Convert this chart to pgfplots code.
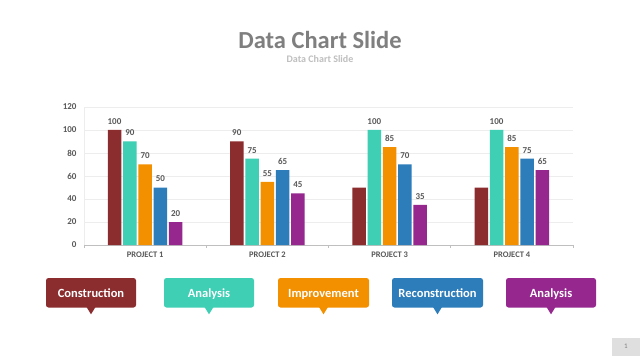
\documentclass[border=0pt]{standalone}
\usepackage{pgfplots}
\pgfplotsset{compat=1.18}
\usepackage{fontspec}
\setmainfont{Carlito}
\definecolor{cRed}{HTML}{8B2C2E}
\definecolor{cTeal}{HTML}{3ECFB4}
\definecolor{cOrange}{HTML}{F39000}
\definecolor{cBlue}{HTML}{2E7DBB}
\definecolor{cPurple}{HTML}{95278F}
\definecolor{txtGray}{HTML}{595959}
\definecolor{titleGray}{HTML}{7F7F7F}
\definecolor{subGray}{HTML}{BFBFBF}
\definecolor{gridGray}{HTML}{EDEDED}
\definecolor{axisGray}{HTML}{BFBFBF}
\begin{document}
\begin{tikzpicture}[x=1bp,y=1bp]
\useasboundingbox[fill=white] (0,0) rectangle (640,360);
% title
\node[anchor=base, inner sep=0pt, text=titleGray,font=\fontsize{24.5bp}{28bp}\selectfont\bfseries] at (320,312) {Data Chart Slide};
\node[anchor=base, inner sep=0pt, text=subGray,font=\fontsize{10bp}{12bp}\selectfont\bfseries] at (320,298) {Data Chart Slide};
\begin{axis}[
  at={(84bp,115bp)}, anchor=south west,
  scale only axis, width=489bp, height=138bp,
  xmin=-0.5, xmax=3.5, ymin=0, ymax=120,
  ybar=1.8bp, bar width=13.5bp,
  xtick={0,1,2,3},
  xticklabels={PROJECT 1,PROJECT 2,PROJECT 3,PROJECT 4},
  major tick length=0pt,
  ytick={0,20,...,120},
  tick style={draw=none},
  ymajorgrids, grid style={draw=gridGray, line width=0.6bp},
  axis x line*=bottom,
  axis y line*=left,
  x axis line style={draw=axisGray, line width=0.8bp, -},
  y axis line style={draw=gridGray, line width=0.6bp, -},
  ticklabel style={text=txtGray, font=\fontsize{9bp}{10bp}\selectfont\bfseries},
  xticklabel style={yshift=-3bp, font=\fontsize{8.5bp}{10bp}\selectfont\bfseries},
  yticklabel style={xshift=-4bp},
  /pgf/number format/assume math mode=true,
  nodes near coords,
  point meta=explicit symbolic,
  every node near coord/.append style={text=txtGray, font=\fontsize{9bp}{10bp}\selectfont\bfseries, yshift=2bp},
  clip=false,
]
\addplot[fill=cRed, draw=none] coordinates {(0,100)[100] (1,90)[90] (2,50)[] (3,50)[]};
\addplot[fill=cTeal, draw=none] coordinates {(0,90)[90] (1,75)[75] (2,100)[100] (3,100)[100]};
\addplot[fill=cOrange, draw=none] coordinates {(0,70)[70] (1,55)[55] (2,85)[85] (3,85)[85]};
\addplot[fill=cBlue, draw=none] coordinates {(0,50)[50] (1,65)[65] (2,70)[70] (3,75)[75]};
\addplot[fill=cPurple, draw=none] coordinates {(0,20)[20] (1,45)[45] (2,35)[35] (3,65)[65]};
\draw[axisGray, line width=0.6bp] (axis cs:-0.5,0) -- ([yshift=-3bp]axis cs:-0.5,0);
\draw[axisGray, line width=0.6bp] (axis cs:0.5,0) -- ([yshift=-3bp]axis cs:0.5,0);
\draw[axisGray, line width=0.6bp] (axis cs:1.5,0) -- ([yshift=-3bp]axis cs:1.5,0);
\draw[axisGray, line width=0.6bp] (axis cs:2.5,0) -- ([yshift=-3bp]axis cs:2.5,0);
\draw[axisGray, line width=0.6bp] (axis cs:3.5,0) -- ([yshift=-3bp]axis cs:3.5,0);
\end{axis}
% callouts
\foreach \xa/\xb/\col/\lab in {46/136/cRed/Construction, 164/254/cTeal/Analysis, 278/369/cOrange/Improvement, 392/483/cBlue/Reconstruction, 506/596/cPurple/Analysis}{
  \pgfmathsetmacro{\cx}{(\xa+\xb)/2}
  \fill[\col, rounded corners=2.5bp] (\xa,82) rectangle (\xb,52.5);
  \fill[\col] (\cx-4.5,53) -- (\cx,45.7) -- (\cx+4.5,53) -- cycle;
  \node[anchor=base, inner sep=0pt, text=white, font=\fontsize{12.5bp}{14bp}\selectfont\bfseries] at (\cx,62.7) {\lab};
}
% page number
\fill[gray!25] (612,4.5) rectangle (640,22.5);
\node[text=gray, font=\fontsize{7bp}{8bp}\selectfont] at (626,13.5) {1};
\end{tikzpicture}
\end{document}
